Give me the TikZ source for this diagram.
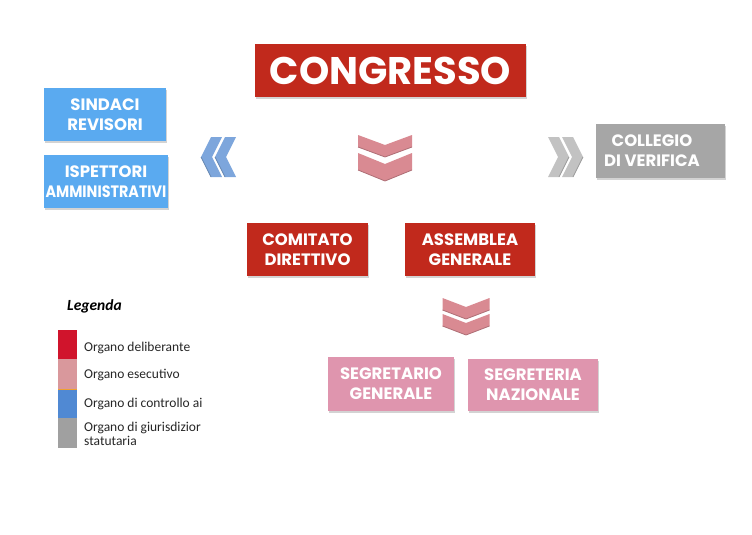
\documentclass[tikz,border=0pt]{standalone}
\usepackage{fontspec}
\newfontfamily\popfont{Poppins}
\newfontfamily\legfont{Carlito}
\usetikzlibrary{shadows}
\definecolor{redbox}{HTML}{C1291C}
\definecolor{bluebox}{HTML}{5AAAF0}
\definecolor{graybox}{HTML}{A6A6A6}
\definecolor{pinkbox}{HTML}{DF95AE}
\definecolor{chevpink}{HTML}{D98A92}
\definecolor{chevblue}{HTML}{7DA6DC}
\definecolor{chevgray}{HTML}{C2C2C2}
\definecolor{legred}{HTML}{D0142C}
\definecolor{legpink}{HTML}{D9989C}
\definecolor{legblue}{HTML}{5089D3}
\definecolor{leggray}{HTML}{A0A0A0}
\definecolor{legorange}{HTML}{F0A030}
\newcommand\chevdown[6]{%
  \fill[#6] ({#1-#3/2},#2) -- (#1,{#2+#4}) -- ({#1+#3/2},#2) -- ({#1+#3/2},{#2+#5}) -- (#1,{#2+#4+#5}) -- ({#1-#3/2},{#2+#5}) -- cycle;
  \draw[#6!80!black, line width=0.8pt] ({#1-#3/2},{#2+#5}) -- (#1,{#2+#4+#5}) -- ({#1+#3/2},{#2+#5});}
% tip x, center y, height, depth, thickness, colour, direction (+1 right, -1 left)
\newcommand\chevside[7]{%
  \fill[#6] (#1,#2) -- ({#1-#7*#4},{#2-#3/2}) -- ({#1-#7*(#4+#5)},{#2-#3/2}) -- ({#1-#7*#5},#2) -- ({#1-#7*(#4+#5)},{#2+#3/2}) -- ({#1-#7*#4},{#2+#3/2}) -- cycle;
  \draw[#6!80!black, line width=0.8pt] (#1,#2) -- ({#1-#7*#4},{#2+#3/2});}
\begin{document}
\begin{tikzpicture}[x=1pt,y=-1pt,
  boxtext/.style={inner sep=0pt, align=center, text=white,
    font=\popfont\bfseries\fontsize{16.5}{20}\selectfont},
  box/.style={boxtext, rectangle,
    drop shadow={opacity=0.35,shadow xshift=1pt,shadow yshift=-2pt}},
  legtext/.style={anchor=base west, inner sep=0pt, text=black!85,
    font=\legfont\fontsize{13.5}{15}\selectfont, align=left}]
\useasboundingbox (0,0) rectangle (752,535);

\node[box, fill=redbox, minimum width=271pt, minimum height=53pt,
  font=\popfont\bfseries\fontsize{38.5}{40}\selectfont] (congresso) at (390.5,70.5) {CONGRESSO};

\node[box, fill=bluebox, minimum width=122pt, minimum height=53pt] (sindaci) at (105,114.5) {SINDACI\\REVISORI};
\node[box, fill=bluebox, minimum width=124pt, minimum height=53pt] (ispettori) at (106,181.5) {ISPETTORI\\\scalebox{0.87}[1]{AMMINISTRATIVI}};
\node[box, fill=graybox, minimum width=129pt, minimum height=54pt] (collegio) at (660.5,151) {};
\node[boxtext] (collegiotxt) at (652,151) {COLLEGIO\\DI VERIFICA};

\node[box, fill=redbox, minimum width=121pt, minimum height=53pt] (comitato) at (307.5,249.5) {COMITATO\\DIRETTIVO};
\node[box, fill=redbox, minimum width=130pt, minimum height=53pt] (assemblea) at (470,249.5) {ASSEMBLEA\\GENERALE};

\node[box, fill=pinkbox, minimum width=126pt, minimum height=54pt] (segretario) at (391,384) {SEGRETARIO\\GENERALE};
\node[box, fill=pinkbox, minimum width=130pt, minimum height=52pt] (segreteria) at (533,385) {SEGRETERIA\\NAZIONALE};

% chevrons
\chevdown{385}{135}{54}{10}{12}{chevpink}
\chevdown{385}{153}{54}{11}{17}{chevpink}
\chevdown{466}{298}{47}{9}{12}{chevpink}
\chevdown{466}{314}{47}{9}{12}{chevpink}
\chevside{201}{157}{40}{10}{11}{chevblue}{-1}
\chevside{215}{157}{40}{10}{11}{chevblue}{-1}
\chevside{569}{157}{40}{10}{11}{chevgray}{1}
\chevside{583}{157}{40}{10}{11}{chevgray}{1}

% legend
\node[anchor=base west, inner sep=0pt, font=\legfont\bfseries\itshape\fontsize{15.5}{17}\selectfont] (legenda) at (67,310) {Legenda};
\fill[legred] (58,330) rectangle (77,358.5);
\fill[legpink] (58,358.5) rectangle (77,388.5);
\fill[legorange] (58,388.5) rectangle (77,389.8);
\fill[legblue] (58,389.8) rectangle (77,418);
\fill[leggray] (58,418) rectangle (77,448);
\node[legtext] (l1) at (84,351) {Organo deliberante};
\node[legtext] (l2) at (84,378) {Organo esecutivo};
\node[legtext] (l3) at (84,407) {Organo di controllo ai};
\node[legtext] (l4) at (84,431) {Organo di giurisdizior};
\node[legtext] (l5) at (84,445) {statutaria};
\end{tikzpicture}
\end{document}
